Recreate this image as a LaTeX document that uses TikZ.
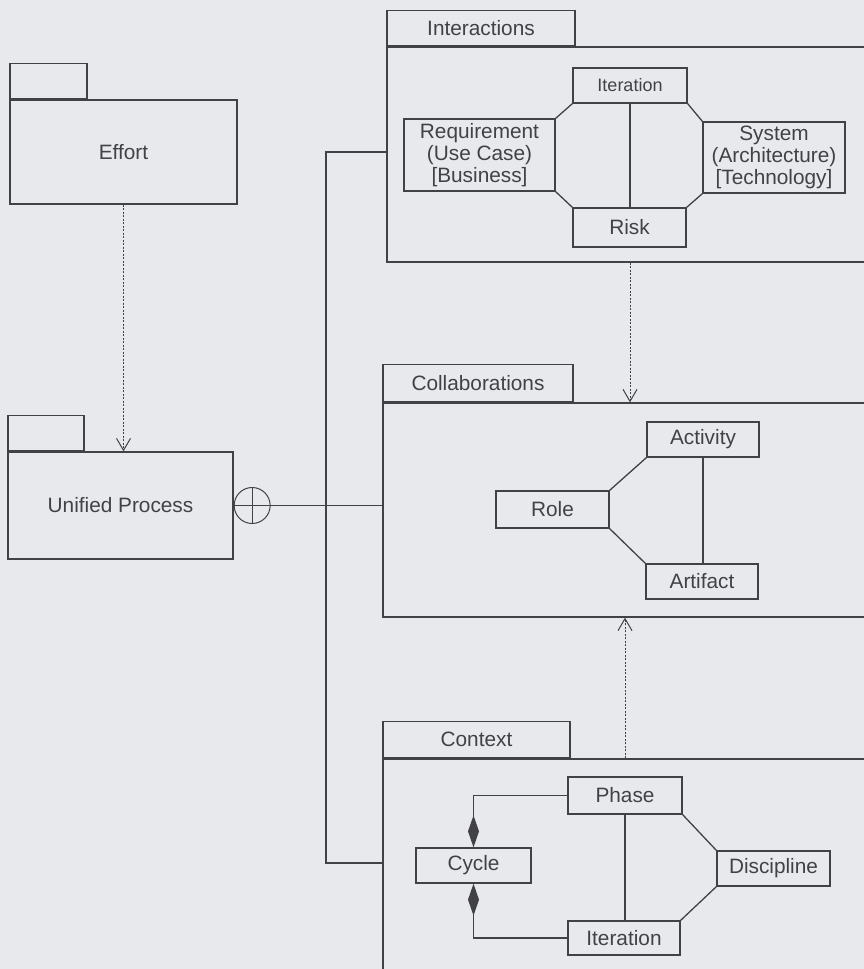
\documentclass[tikz,border=0pt]{standalone}
\usepackage{fontspec}
\setmainfont{Liberation Sans}
\usetikzlibrary{arrows.meta}
\definecolor{paper}{RGB}{231,233,237}
\definecolor{ink}{RGB}{66,66,70}

\begin{document}
\begin{tikzpicture}[x=1pt, y=-1pt, line width=1.3pt, color=ink,
  every node/.style={font=\fontsize{20.8}{22}\selectfont, align=center, inner sep=0pt},
  box/.style={draw, minimum width=113, minimum height=36},
  pkg/.style={draw, minimum width=500},
  tab/.style={draw, anchor=south west, minimum height=35},
  dep/.style={dash pattern=on 2pt off 1.5pt, line width=1pt, -{Straight Barb[length=12pt, width=14pt]}},
  own/.style={-{Diamond[length=32pt, width=11pt]}}]
  % Page
  \clip (0,0) rectangle (864,969);
  \fill[paper] (0,0) rectangle (864,969);
  % Packages
  \node[pkg, minimum width=227, minimum height=104] (effort) at (123.5,152) {Effort};
  \node[tab, minimum width=77] (effort tab) at (effort.north west) {};
  \node[pkg, minimum width=225, minimum height=107] (unified) at (120.5,505.5) {Unified Process};
  \node[tab, minimum width=76] (unified tab) at (unified.north west) {};
  \node[pkg, minimum height=215] (inter) at (637,154.5) {};
  \node[tab, minimum width=188] (inter tab) at (inter.north west) {Interactions};
  \node[pkg, minimum height=214] (collab) at (633,510) {};
  \node[tab, minimum width=190, minimum height=37] (collab tab) at (collab.north west) {Collaborations};
  \node[pkg, minimum height=226] (context) at (633,872) {};
  \node[tab, minimum width=187, minimum height=36] (context tab) at (context.north west) {Context};
  % Interactions
  \node[box, minimum width=114, minimum height=35, font=\fontsize{18}{20}\selectfont] (iterI) at (630,85.5) {Iteration};
  \node[box, minimum width=151, minimum height=72] (req) at (479.5,155) {Requirement\\(Use Case)\\{}[Business]};
  \node[box, minimum width=142, minimum height=71] (sys) at (774,157.5) {System\\(Architecture)\\{}[Technology]};
  \node[box, minimum height=39] (risk) at (629.5,227.5) {Risk};
  \draw (iterI.south) -- (iterI.south |- risk.north);
  \draw (iterI.south west) -- (req.north east);
  \draw (req.south east) -- (risk.north west);
  \draw (iterI.south east) -- (sys.north west);
  \draw (sys.south west) -- (risk.north east);
  % Collaborations
  \node[box, minimum width=112, minimum height=35] (activity) at (703,439.5) {Activity};
  \node[box, minimum height=37] (role) at (552.5,509.5) {Role};
  \node[box, minimum width=112, minimum height=35] (artifact) at (702,581.5) {Artifact};
  \draw (role.north east) -- (activity.south west);
  \draw (role.south east) -- (artifact.north west);
  \draw (activity.south) -- (activity.south |- artifact.north);
  % Context
  \node[box, minimum width=114, minimum height=37] (phase) at (625,795.5) {Phase};
  \node[box, minimum width=115, minimum height=35] (cycle) at (473.5,865.5) {Cycle};
  \node[box, minimum height=35] (disc) at (773.5,868.5) {Discipline};
  \node[box, minimum width=112, minimum height=34] (iterC) at (624,938) {Iteration};
  \draw[own] (phase.west) -| (cycle.north);
  \draw[own] (iterC.west) -| (cycle.south);
  \draw (phase.south) -- (phase.south |- iterC.north);
  \draw (phase.south east) -- (disc.north west);
  \draw (disc.south west) -- (iterC.north east);
  % Dependencies
  \draw[dep] (effort.south) -- (effort.south |- unified.north);
  \draw[dep] (iterI |- inter.south) -- (iterI |- collab.north);
  \draw[dep] (phase |- context.north) -- (phase |- collab.south);
  % Containment
  \node[circle, draw, line width=1pt, minimum size=36, anchor=west] (whole) at (unified.east) {};
  \draw[line width=1pt] (whole.north) -- (whole.south);
  \draw (whole.west) -- (whole.west -| collab.west);
  \coordinate (trunk top) at (326,152);
  \coordinate (trunk end) at (326,863);
  \draw (inter.west |- trunk top) -- (trunk top) -- (trunk end) -- (trunk end -| context.west);
\end{tikzpicture}
\end{document}
